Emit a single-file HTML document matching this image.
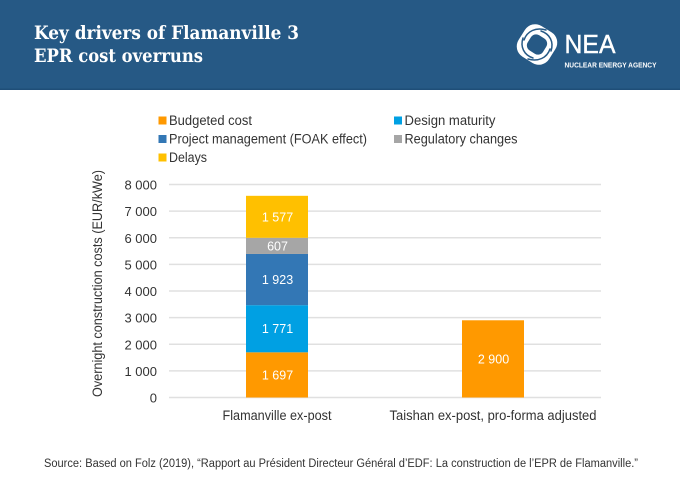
<!DOCTYPE html>
<html lang="en">
<head>
<meta charset="utf-8">
<title>Key drivers of Flamanville 3 EPR cost overruns</title>
<style>
html,body{margin:0;padding:0;background:#fff;}
#stage{display:block;width:680px;height:486px;}
text{font-family:"Liberation Sans",sans-serif;}
</style>
</head>
<body>
<svg id="stage" xmlns="http://www.w3.org/2000/svg" width="680" height="486" viewBox="0 0 680 486">
  <rect x="0" y="0" width="680" height="486" fill="#ffffff"/>
  <rect x="0" y="0" width="680" height="89" fill="#265985"/>
  <rect x="0" y="88.5" width="680" height="1.5" fill="#1f4e78"/>
  <text x="34" y="39" fill="#fff" font-size="18.500" font-weight="700" textLength="265" lengthAdjust="spacingAndGlyphs" style="font-family:'DejaVu Serif',serif">Key drivers of Flamanville 3</text>
  <text x="34" y="62" fill="#fff" font-size="18.500" font-weight="700" textLength="169" lengthAdjust="spacingAndGlyphs" style="font-family:'DejaVu Serif',serif">EPR cost overruns</text>

  <g>
    <g>
      <rect x="519" y="26.500" width="36" height="36" rx="12" fill="#fff" transform="rotate(32 537 44.500)"/>
      <rect x="528" y="35.500" width="18" height="18" rx="6" fill="#265985" transform="rotate(32 537 44.500)"/>
      <g fill="none" stroke="#265985" stroke-width="1.500" stroke-linecap="round">
        <path d="M524 40 C527 31 536 27 546 30"/>
        <path d="M541 31 C550 34 554 42 551 51"/>
        <path d="M550 49 C547 58 538 62 528 59"/>
        <path d="M533 58 C524 55 520 47 523 38"/>
      </g>
    </g>
    <text x="564.500" y="53" fill="#fff" font-size="26" stroke="#fff" stroke-width="0.400" textLength="51" lengthAdjust="spacingAndGlyphs">NEA</text>
    <text x="564.500" y="67.500" fill="#fff" font-size="7.500" font-weight="700" textLength="92" lengthAdjust="spacingAndGlyphs">NUCLEAR ENERGY AGENCY</text>
  </g>

  <g id="legend"></g>
  <g id="grid"></g>
  <g id="yticks"></g>
  <g id="bars"></g>
  <g id="xticks"></g>

  <text transform="translate(102 397) rotate(-90)" x="0" y="0" fill="#333" font-size="13.500" textLength="227" lengthAdjust="spacingAndGlyphs">Overnight construction costs (EUR/kWe)</text>
  <text x="44" y="467" fill="#333" font-size="11.500" textLength="594" lengthAdjust="spacingAndGlyphs">Source: Based on Folz (2019), “Rapport au Président Directeur Général d’EDF: La construction de l’EPR de Flamanville.”</text>
</svg>
<script>
const categories = ["Flamanville ex-post", "Taishan ex-post, pro-forma adjusted"];
const seriesNames = ["Budgeted cost", "Design maturity", "Project management (FOAK effect)", "Regulatory changes", "Delays"];
const seriesColors = ["#ff9900", "#00a0e3", "#3377b5", "#a6a6a6", "#ffc000"];
const budgetedCost = [1697, 2900];
const designMaturity = [1771, 0];
const projectManagement = [1923, 0];
const regulatoryChanges = [607, 0];
const delays = [1577, 0];
const tickValues = [0, 1000, 2000, 3000, 4000, 5000, 6000, 7000, 8000];
const seriesValues = [budgetedCost, designMaturity, projectManagement, regulatoryChanges, delays];

const NS = "http://www.w3.org/2000/svg";
const plotLeft = 169, plotRight = 601, plotBottom = 397.5, plotTop = 184.5;
const axisMax = 8000, barWidth = 62;

function yScale(v) { return plotBottom - (v / axisMax) * (plotBottom - plotTop); }
function xCenter(i) { return plotLeft + (i + 0.5) * (plotRight - plotLeft) / categories.length; }
function fmt(v) { return String(v).replace(/\B(?=(\d{3})+$)/g, " "); }
function make(parent, tag, attrs, txt) {
  const el = document.createElementNS(NS, tag);
  for (const k in attrs) el.setAttribute(k, attrs[k]);
  if (txt !== undefined) el.textContent = txt;
  parent.appendChild(el);
  return el;
}
function slug(s) { return s.toLowerCase().replace(/[^a-z0-9]+/g, "-").replace(/^-|-$/g, ""); }

const gridG = document.getElementById("grid");
const yG = document.getElementById("yticks");
tickValues.forEach(function (t) {
  const line = make(gridG, "line", {x1: plotLeft, x2: plotRight, y1: yScale(t), y2: yScale(t), stroke: "#e0e0e0", "stroke-width": 1.5});
  
  
  const lab = make(yG, "text", {x: 157, y: yScale(t) + 5, "text-anchor": "end", fill: "#333", "font-size": 13}, fmt(t));
  
  
});

const barsG = document.getElementById("bars");
categories.forEach(function (cat, i) {
  let acc = 0;
  seriesValues.forEach(function (vals, s) {
    const v = vals[i];
    if (!v) return;
    const y0 = yScale(acc), y1 = yScale(acc + v);
    const r = make(barsG, "rect", {x: xCenter(i) - barWidth / 2, y: y1, width: barWidth, height: y0 - y1, fill: seriesColors[s]});
    
    
    const t = make(barsG, "text", {x: xCenter(i) + 0.5, y: (y0 + y1) / 2 + 4.5, "text-anchor": "middle", fill: "#fff", "font-size": 12.5}, fmt(v));
    
    
    acc += v;
  });
});

const xG = document.getElementById("xticks");
const xLabelWidths = [109, 207];
categories.forEach(function (cat, i) {
  const t = make(xG, "text", {x: xCenter(i), y: 420, "text-anchor": "middle", fill: "#333", "font-size": 13.5, textLength: xLabelWidths[i], lengthAdjust: "spacingAndGlyphs"}, cat);
  
  
});

const legendG = document.getElementById("legend");
const legendX = [158.500, 394, 158.500, 394, 158.500];
const legendY = [120.5, 120.5, 139, 139, 157.5];
const legendW = [83, 91, 198, 113, 38];
seriesNames.forEach(function (name, s) {
  const sw = make(legendG, "rect", {x: legendX[s], y: legendY[s] - 4, width: 8, height: 8, fill: seriesColors[s]});
  
  
  const t = make(legendG, "text", {x: legendX[s] + 10.5, y: legendY[s] + 4.5, fill: "#333", "font-size": 13.5, textLength: legendW[s], lengthAdjust: "spacingAndGlyphs"}, name);
  
  
});
</script>
</body>
</html>
